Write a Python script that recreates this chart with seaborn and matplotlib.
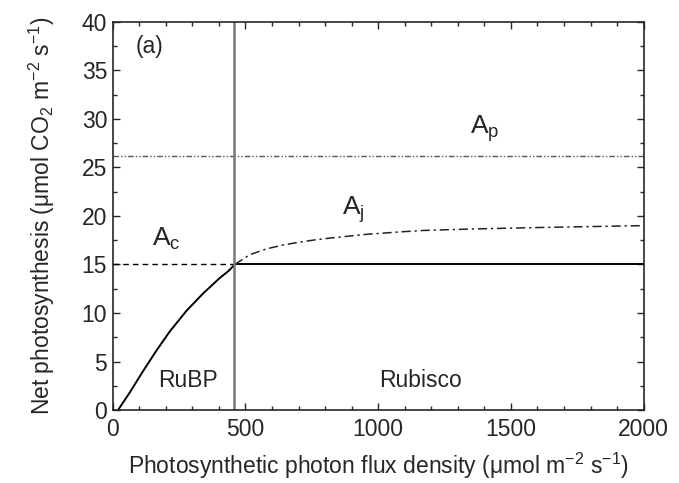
import numpy as np
import pandas as pd
import seaborn as sns
import matplotlib.pyplot as plt
from matplotlib.ticker import MultipleLocator

# light response curve
ppfd_rubp = [20, 64, 114, 164, 215, 277, 340, 403, 435, 460]
a_rubp = [0.0, 1.8, 4.0, 6.1, 8.1, 10.2, 12.0, 13.6, 14.3, 15.0]

ppfd_aj = [460, 516, 579, 641, 704, 767, 830, 955, 1081, 1169, 1350, 1600, 1800, 2000]
a_aj = [15.0, 16.0, 16.6, 17.0, 17.3, 17.55, 17.75, 18.1, 18.35, 18.5, 18.65, 18.8, 18.9, 19.0]

ppfd_ac = [0, 460]
a_ac = [15.0, 15.0]

ppfd_rubisco = [460, 2000]
a_rubisco = [15.0, 15.0]

ppfd_ap = [0, 2000]
a_ap = [26.2, 26.2]

transition = 458

sns.set_style('ticks')
plt.rcParams['font.family'] = ['Liberation Sans', 'DejaVu Sans']
plt.rcParams['mathtext.fontset'] = 'custom'
plt.rcParams['mathtext.rm'] = 'Liberation Sans'
plt.rcParams['mathtext.it'] = 'Liberation Sans'
plt.rcParams['font.size'] = 16.5

fig, ax = plt.subplots(figsize=(6.79, 4.83), dpi=100)
fig.subplots_adjust(left=0.166, right=0.948, bottom=0.151, top=0.955)

sns.lineplot(x=ppfd_rubp, y=a_rubp, ax=ax, color='black', lw=1.4, sort=False)
sns.lineplot(x=ppfd_rubisco, y=a_rubisco, ax=ax, color='black', lw=1.4)
sns.lineplot(x=ppfd_ac, y=a_ac, ax=ax, color='black', lw=1.0, linestyle=(0, (4, 3)))
sns.lineplot(x=ppfd_aj, y=a_aj, ax=ax, color='#222222', lw=1.1, linestyle=(0, (6, 2.5, 1.5, 2.5)))
sns.lineplot(x=ppfd_ap, y=a_ap, ax=ax, color='#555555', lw=1.0,
             linestyle=(0, (4, 1.5, 1, 1.5, 1, 1.5)))
ax.axvline(transition, color='#777777', lw=1.8)

ax.text(140, 37.5, '(a)', ha='center', va='center')
ax.text(200, 17.6, r'A$_\mathrm{c}$', ha='center', va='center', fontsize=19)
ax.text(905, 20.6, r'A$_\mathrm{j}$', ha='center', va='center', fontsize=19)
ax.text(1400, 29.0, r'A$_\mathrm{p}$', ha='center', va='center', fontsize=19)
ax.text(285, 3.0, 'RuBP', ha='center', va='center')
ax.text(1160, 3.0, 'Rubisco', ha='center', va='center')

ax.set_xlim(0, 2000)
ax.set_ylim(0, 40)
ax.xaxis.set_major_locator(MultipleLocator(500))
ax.xaxis.set_minor_locator(MultipleLocator(100))
ax.yaxis.set_major_locator(MultipleLocator(5))
ax.yaxis.set_minor_locator(MultipleLocator(2.5))
ax.tick_params(which='both', direction='in', top=True, right=True, width=1.0)
ax.tick_params(which='major', length=5, pad=4)
ax.tick_params(axis='x', which='major', pad=6)
ax.tick_params(which='minor', length=3)
for s in ax.spines.values():
    s.set_linewidth(1.2)

ax.set_xlabel(r'Photosynthetic photon flux density ($\mu$mol m$^{-2}$ s$^{-1}$)', labelpad=7)
ax.set_ylabel(r'Net photosynthesis ($\mu$mol CO$_2$ m$^{-2}$ s$^{-1}$)', labelpad=18)

fig.savefig('out.png', dpi=100)
